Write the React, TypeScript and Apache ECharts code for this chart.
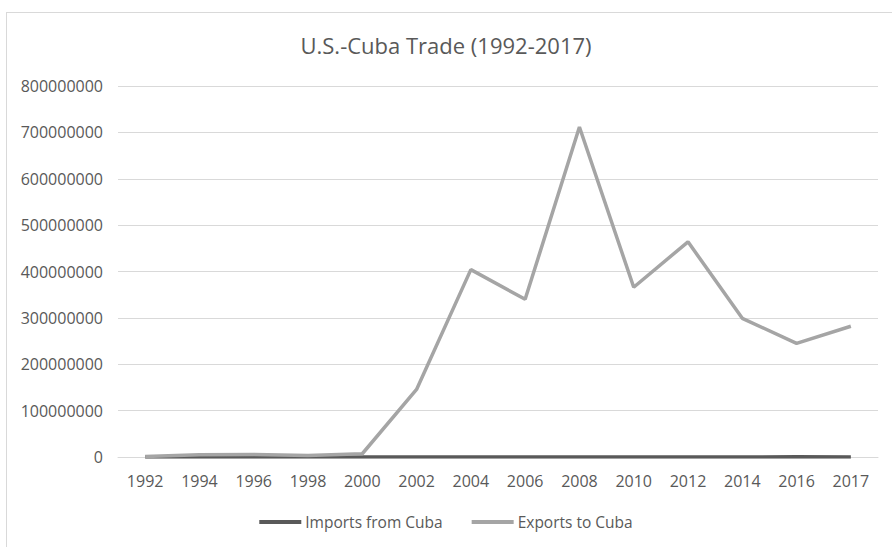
import React, { useEffect, useRef } from "react";
import * as echarts from "echarts";

const years = ["1992", "1994", "1996", "1998", "2000", "2002", "2004", "2006", "2008", "2010", "2012", "2014", "2016", "2017"];
const importsFromCuba = [0, 0, 0, 0, 0, 0, 100000, 0, 0, 0, 0, 0, 300000, 200000];
const exportsToCuba = [1000000, 5000000, 5500000, 3500000, 7000000, 145600000, 404000000, 340000000, 711500000, 366000000, 464000000, 299000000, 245000000, 282000000];
const yTicks = { min: 0, max: 800000000, interval: 100000000 };

const FONT = "'Open Sans', sans-serif";
const TEXT = "#595959";

export default function App() {
  const ref = useRef<HTMLDivElement>(null);
  useEffect(() => {
    if (!ref.current) return;
    const chart = echarts.init(ref.current, null, { renderer: "svg" });
    chart.setOption({
      animation: false,
      backgroundColor: "#ffffff",
      textStyle: { fontFamily: FONT },
      title: {
        text: "U.S.-Cuba Trade (1992-2017)",
        left: "center",
        top: 29,
        textStyle: { fontFamily: FONT, fontSize: 22, fontWeight: "normal", color: TEXT },
      },
      graphic: [
        { type: "line", shape: { x1: 6, y1: 12.5, x2: 892, y2: 12.5 }, style: { stroke: "#d9d9d9", lineWidth: 1 } },
        { type: "line", shape: { x1: 6.5, y1: 12, x2: 6.5, y2: 547 }, style: { stroke: "#d9d9d9", lineWidth: 1 } },
      ],
      grid: { left: 118, right: 14, top: 86, bottom: 90, containLabel: false },
      legend: {
        bottom: 12,
        left: "center",
        icon: "rect",
        itemWidth: 42,
        itemHeight: 4,
        itemGap: 29,
        textStyle: { fontFamily: FONT, fontSize: 15.5, color: TEXT, padding: [0, 0, 0, -1] },
        data: ["Imports from Cuba", "Exports to Cuba"],
      },
      xAxis: {
        type: "category",
        data: years,
        boundaryGap: true,
        axisLine: { lineStyle: { color: "#d9d9d9", width: 1 } },
        axisTick: { show: false },
        axisLabel: { color: TEXT, fontFamily: FONT, fontSize: 16, margin: 16 },
      },
      yAxis: {
        type: "value",
        min: yTicks.min,
        max: yTicks.max,
        interval: yTicks.interval,
        axisLine: { show: false },
        axisTick: { show: false },
        splitLine: { lineStyle: { color: "#d9d9d9", width: 1 } },
        axisLabel: { color: TEXT, fontFamily: FONT, fontSize: 16, margin: 15, formatter: (v: number) => String(v) },
      },
      series: [
        {
          name: "Imports from Cuba",
          type: "line",
          data: importsFromCuba,
          symbol: "none",
          lineStyle: { color: "#595959", width: 3.5 },
          itemStyle: { color: "#595959" },
        },
        {
          name: "Exports to Cuba",
          type: "line",
          data: exportsToCuba,
          symbol: "none",
          lineStyle: { color: "#a5a5a5", width: 3.5 },
          itemStyle: { color: "#a5a5a5" },
        },
      ],
    });
    return () => chart.dispose();
  }, []);
  return <div ref={ref} style={{ position: "absolute", left: 0, top: 0, width: 892, height: 547 }} />;
}
